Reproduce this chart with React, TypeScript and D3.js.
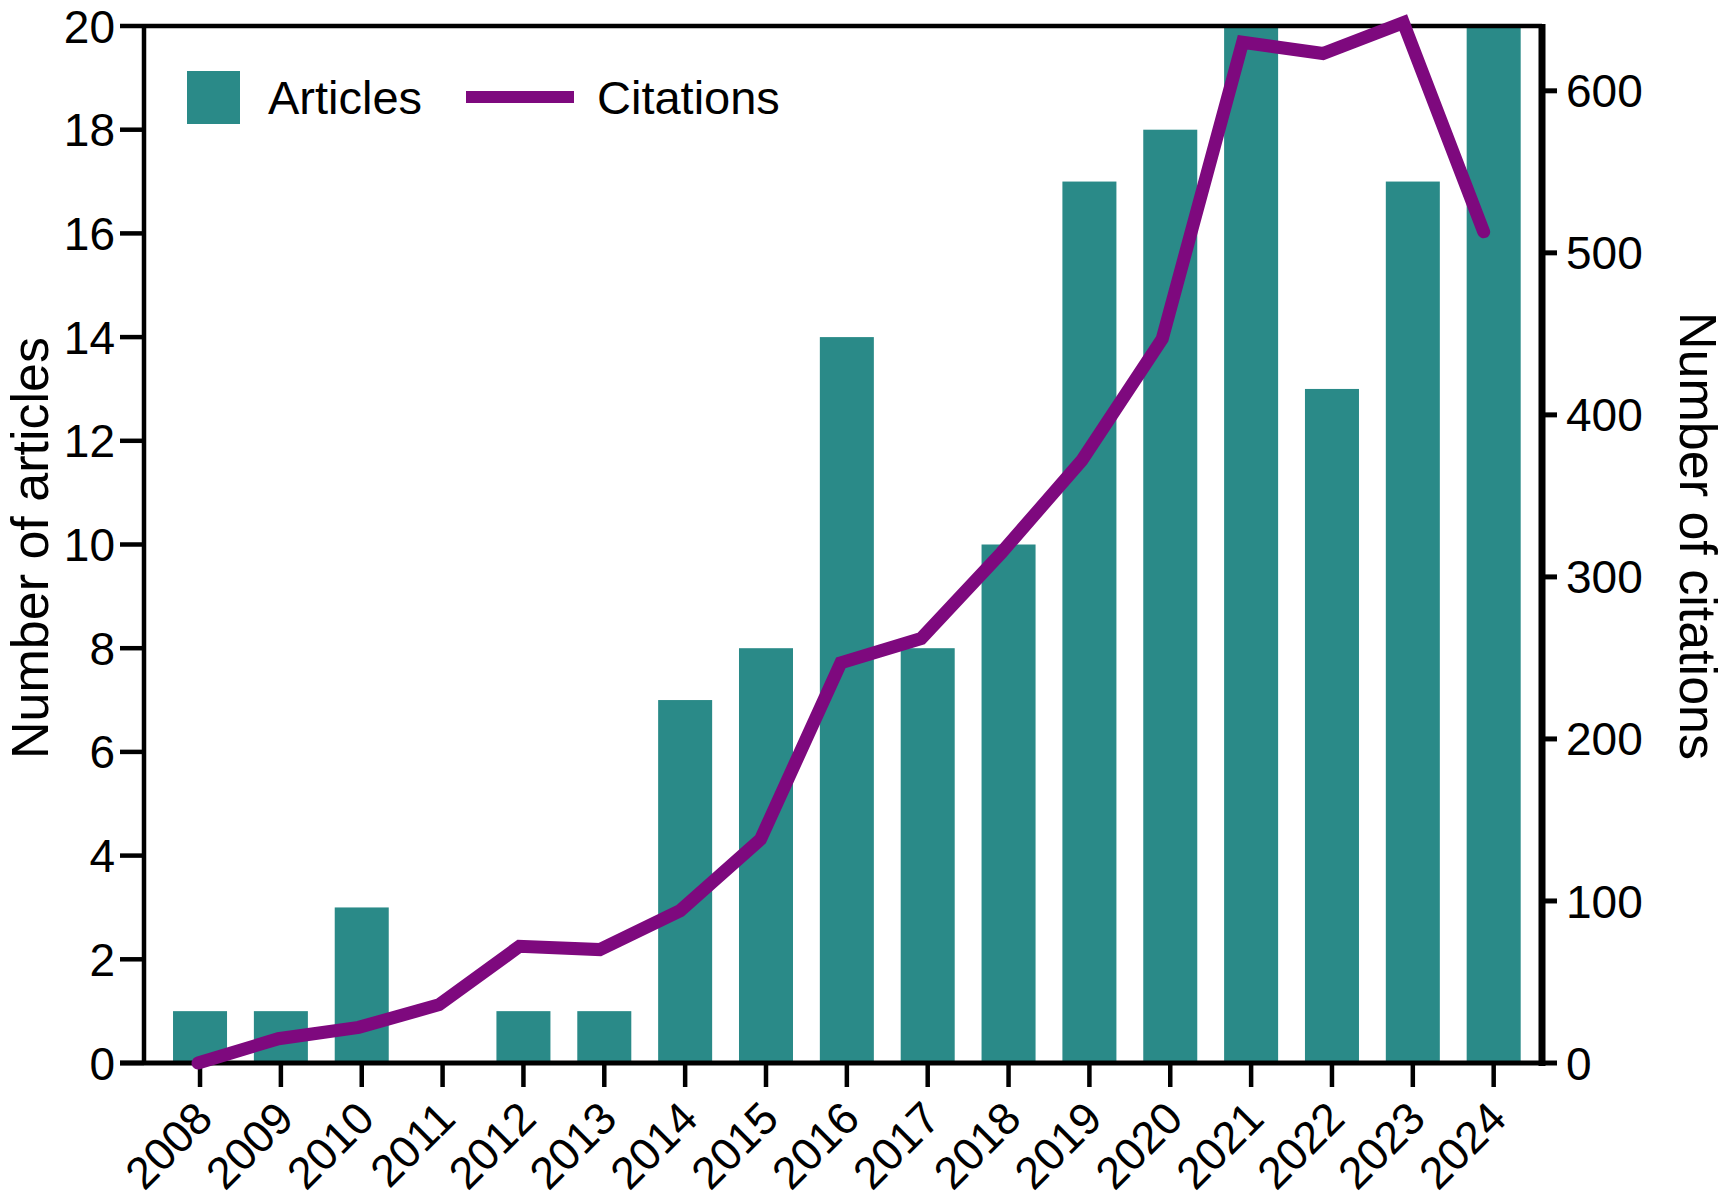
import * as d3 from 'd3'
import { useEffect, useRef } from 'react'

const years = [
  '2008', '2009', '2010', '2011', '2012', '2013', '2014', '2015', '2016',
  '2017', '2018', '2019', '2020', '2021', '2022', '2023', '2024',
]
const articles = [1, 1, 3, 0, 1, 1, 7, 8, 14, 8, 10, 17, 18, 20, 13, 17, 20]
const citations = [0, 15, 22, 36, 72, 70, 94, 138, 247, 262, 315, 372, 447, 630, 623, 642, 513]
const leftTicks = [0, 2, 4, 6, 8, 10, 12, 14, 16, 18, 20]
const rightTicks = [0, 100, 200, 300, 400, 500, 600]

const W = 1727
const H = 1200
const FONT = 'Arial, "Liberation Sans", Helvetica, sans-serif'
const TEAL = '#2a8a88'
const PURPLE = '#7e097e'

const App = () => {
  const ref = useRef<SVGSVGElement>(null)

  useEffect(() => {
    const svg = d3.select(ref.current)
    svg.selectAll('*').remove()

    const left = 144
    const right = 1542
    const top = 26
    const bottom = 1063

    const x = d3
      .scaleBand<string>()
      .domain(years)
      .range([159.6, 1534.1])
      .paddingInner(0.332)
      .paddingOuter(0.166)
    const cx = (d: string) => (x(d) ?? 0) + x.bandwidth() / 2

    // the line sits a touch left of the bar centres toward the right end
    const xl = d3
      .scalePoint<string>()
      .domain(years)
      .range([cx('2008') - 2, cx('2024') - 10])

    const yl = d3.scaleLinear().domain([0, 20]).range([bottom, top])
    const yr = d3.scaleLinear().domain([0, 640]).range([bottom, top])

    // bars
    svg
      .append('g')
      .selectAll('rect')
      .data(articles)
      .enter()
      .append('rect')
      .attr('x', (_d, i) => x(years[i]) ?? 0)
      .attr('width', x.bandwidth())
      .attr('y', (d) => yl(d))
      .attr('height', (d) => bottom - yl(d))
      .attr('fill', TEAL)

    // frame: top line
    svg
      .append('line')
      .attr('x1', left)
      .attr('x2', right)
      .attr('y1', top)
      .attr('y2', top)
      .attr('stroke', '#000')
      .attr('stroke-width', 4.5)

    // left axis
    const gl = svg.append('g').attr('transform', `translate(${left},0)`)
    gl.append('line')
      .attr('y1', top - 2)
      .attr('y2', bottom + 2)
      .attr('stroke', '#000')
      .attr('stroke-width', 4.5)
    gl.selectAll('.t')
      .data(leftTicks)
      .enter()
      .append('line')
      .attr('x1', -24)
      .attr('x2', 0)
      .attr('y1', (d) => yl(d))
      .attr('y2', (d) => yl(d))
      .attr('stroke', '#000')
      .attr('stroke-width', 4.5)
    gl.selectAll('text')
      .data(leftTicks)
      .enter()
      .append('text')
      .attr('x', -29)
      .attr('y', (d) => yl(d))
      .attr('dy', '0.36em')
      .attr('text-anchor', 'end')
      .style('font-family', FONT)
      .style('font-size', '46px')
      .text((d) => d)

    // right axis
    const gr = svg.append('g').attr('transform', `translate(${right},0)`)
    gr.append('line')
      .attr('y1', top - 2)
      .attr('y2', bottom + 3)
      .attr('stroke', '#000')
      .attr('stroke-width', 7)
    gr.selectAll('.t')
      .data(rightTicks)
      .enter()
      .append('line')
      .attr('x1', 0)
      .attr('x2', 15)
      .attr('y1', (d) => yr(d))
      .attr('y2', (d) => yr(d))
      .attr('stroke', '#000')
      .attr('stroke-width', 5)
    gr.selectAll('text')
      .data(rightTicks)
      .enter()
      .append('text')
      .attr('x', 24)
      .attr('y', (d) => yr(d))
      .attr('dy', '0.36em')
      .attr('text-anchor', 'start')
      .style('font-family', FONT)
      .style('font-size', '46px')
      .text((d) => d)

    // bottom axis
    const gb = svg.append('g')
    gb.append('line')
      .attr('x1', left - 24)
      .attr('x2', right)
      .attr('y1', bottom)
      .attr('y2', bottom)
      .attr('stroke', '#000')
      .attr('stroke-width', 5)
    gb.selectAll('.t')
      .data(years)
      .enter()
      .append('line')
      .attr('x1', cx)
      .attr('x2', cx)
      .attr('y1', bottom)
      .attr('y2', bottom + 24)
      .attr('stroke', '#000')
      .attr('stroke-width', 4.5)
    gb.selectAll('text')
      .data(years)
      .enter()
      .append('text')
      .attr('transform', (d) => `translate(${cx(d) + 15},${bottom + 58}) rotate(-45)`)
      .attr('text-anchor', 'end')
      .style('font-family', FONT)
      .style('font-size', '45px')
      .text((d) => d)

    // citations line
    const line = d3
      .line<number>()
      .x((_d, i) => xl(years[i]) ?? 0)
      .y((d) => yr(d))
    svg
      .append('path')
      .datum(citations)
      .attr('d', line)
      .attr('fill', 'none')
      .attr('stroke', PURPLE)
      .attr('stroke-width', 13)
      .attr('stroke-linecap', 'round')
      .attr('stroke-linejoin', 'miter')

    // axis titles
    svg
      .append('text')
      .attr('transform', `translate(48,548) rotate(-90)`)
      .attr('text-anchor', 'middle')
      .style('font-family', FONT)
      .style('font-size', '52px')
      .text('Number of articles')
    svg
      .append('text')
      .attr('transform', `translate(1680,536) rotate(90)`)
      .attr('text-anchor', 'middle')
      .style('font-family', FONT)
      .style('font-size', '52px')
      .text('Number of citations')

    // legend
    const lg = svg.append('g')
    lg.append('rect')
      .attr('x', 187)
      .attr('y', 71)
      .attr('width', 53)
      .attr('height', 53)
      .attr('fill', TEAL)
    lg.append('text')
      .attr('x', 268)
      .attr('y', 114)
      .style('font-family', FONT)
      .style('font-size', '47px')
      .text('Articles')
    lg.append('line')
      .attr('x1', 466)
      .attr('x2', 574)
      .attr('y1', 97)
      .attr('y2', 97)
      .attr('stroke', PURPLE)
      .attr('stroke-width', 12)
    lg.append('text')
      .attr('x', 597)
      .attr('y', 114)
      .style('font-family', FONT)
      .style('font-size', '47px')
      .text('Citations')
  }, [])

  return (
    <svg
      ref={ref}
      width={W}
      height={H}
      style={{ position: 'absolute', left: 0, top: 0, background: '#fff' }}
    />
  )
}

export default App
